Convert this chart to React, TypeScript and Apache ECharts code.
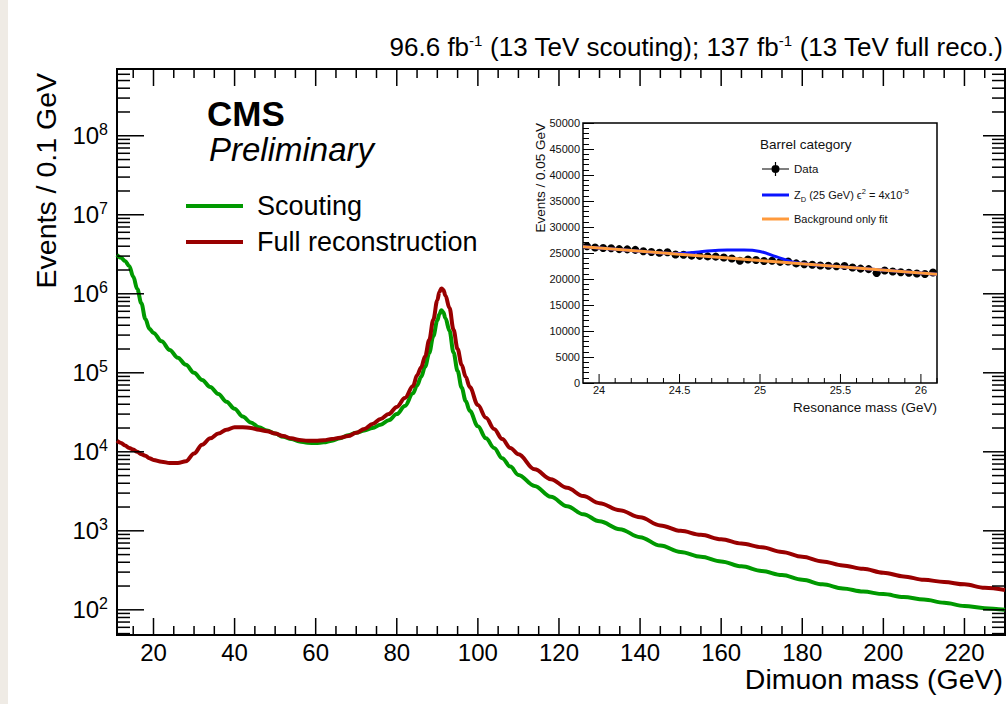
import React, { useEffect, useRef } from "react";
import * as echarts from "echarts";

const FONT = "'Liberation Sans', Arial, Helvetica, sans-serif";
const GREEN = "#009900";
const RED = "#990000";
const BLUE = "#0a14ff";
const ORANGE = "#ff9a3c";

// ---------- main plot data (dimuon mass, GeV / events per 0.1 GeV) ----------
const massGeV = [
  11, 12, 13, 14, 15, 16, 17, 18, 19, 20,
  22, 24, 26, 28, 30, 32, 34, 36, 38, 40, 42, 44, 46, 48, 50, 52, 54, 56, 58, 60,
  62, 64, 66, 68, 70, 72, 74, 76, 78, 80, 82, 84,
  85, 86, 87, 88, 89, 90,
  90.5, 91, 91.5, 92,
  93, 94, 95, 96, 97, 98,
  100, 102, 104, 106, 108, 110,
  114, 118, 122, 126, 130,
  135, 140, 145, 150, 155, 160, 165, 170, 175, 180, 185, 190, 195, 200, 205, 210, 215, 220, 225, 230,
];
const scouting = [
  3.1e6, 2.85e6, 2.6e6, 2.25e6, 1.65e6, 1.15e6, 7.6e5, 4.8e5, 3.6e5, 3.2e5,
  2.5e5, 1.95e5, 1.55e5, 1.26e5, 1.0e5, 8.1e4, 6.6e4, 5.4e4, 4.3e4, 3.5e4, 2.8e4, 2.35e4, 2.05e4, 1.86e4, 1.7e4, 1.55e4, 1.45e4, 1.35e4, 1.3e4, 1.29e4,
  1.32e4, 1.38e4, 1.48e4, 1.62e4, 1.74e4, 1.86e4, 2.0e4, 2.2e4, 2.5e4, 3.0e4, 3.8e4, 5.5e4,
  6.9e4, 8.9e4, 1.2e5, 1.78e5, 2.9e5, 4.6e5,
  5.5e5, 6.2e5, 5.8e5, 4.9e5,
  3.4e5, 1.8e5, 1.05e5, 6.5e4, 4.4e4, 3.3e4,
  2.1e4, 1.48e4, 1.12e4, 8.3e3, 6.5e3, 5.1e3,
  3.7e3, 2.7e3, 2.05e3, 1.62e3, 1.32e3,
  1050, 830, 650, 540, 470, 410, 355, 310, 275, 240, 210, 186, 170, 158, 145, 135, 123, 112, 105, 100,
];
const fullReco = [
  1.38e4, 1.29e4, 1.2e4, 1.12e4, 1.07e4, 1.0e4, 9.3e3, 8.9e3, 8.3e3, 7.9e3,
  7.5e3, 7.2e3, 7.2e3, 7.6e3, 9.5e3, 1.23e4, 1.48e4, 1.7e4, 1.9e4, 2.05e4, 2.05e4, 2.0e4, 1.9e4, 1.82e4, 1.7e4, 1.58e4, 1.48e4, 1.41e4, 1.38e4, 1.38e4,
  1.4e4, 1.45e4, 1.51e4, 1.58e4, 1.74e4, 1.95e4, 2.25e4, 2.6e4, 3.0e4, 3.7e4, 4.8e4, 6.8e4,
  9.3e4, 1.17e5, 1.62e5, 2.6e5, 4.7e5, 8.3e5,
  1.05e6, 1.17e6, 1.12e6, 9.5e5,
  6.6e5, 3.5e5, 2.0e5, 1.26e5, 8.9e4, 6.6e4,
  3.9e4, 2.7e4, 1.95e4, 1.45e4, 1.12e4, 9.3e3,
  6.0e3, 4.5e3, 3.5e3, 2.75e3, 2.24e3,
  1820, 1480, 1170, 1000, 890, 780, 690, 620, 540, 470, 410, 365, 330, 295, 265, 240, 225, 210, 190, 178,
];

// main axis ticks / labels
const xMajorTicks = [20, 40, 60, 80, 100, 120, 140, 160, 180, 200, 220];
const xMinorTicks = [15, 25, 30, 35, 45, 50, 55, 65, 70, 75, 85, 90, 95, 105, 110, 115, 125, 130, 135, 145, 150, 155, 165, 170, 175, 185, 190, 195, 205, 210, 215, 225];
const yMajorTicks = [1e2, 1e3, 1e4, 1e5, 1e6, 1e7, 1e8];
const yDecades = [10, 1e2, 1e3, 1e4, 1e5, 1e6, 1e7, 1e8];
const yMantissas = [2, 3, 4, 5, 6, 7, 8, 9];

// ---------- inset data (barrel category) ----------
const insetMass = [
  23.925, 23.975, 24.025, 24.075, 24.125, 24.175, 24.225, 24.275, 24.325, 24.375, 24.425,
  24.475, 24.525, 24.575, 24.625, 24.675, 24.725, 24.775, 24.825, 24.875, 24.925, 24.975,
  25.025, 25.075, 25.125, 25.175, 25.225, 25.275, 25.325, 25.375, 25.425, 25.475, 25.525,
  25.575, 25.625, 25.675, 25.725, 25.775, 25.825, 25.875, 25.925, 25.975, 26.025, 26.075,
];
const insetEvents = [
  26300, 26050, 25950, 25900, 25750, 25700, 25600, 25350, 25200, 25050, 25150,
  24700, 24650, 24500, 24450, 24350, 24300, 24150, 23950, 23500, 23750, 23650,
  23450, 23500, 23300, 23350, 23000, 22850, 22750, 22600, 22550, 22450, 22500,
  22200, 22000, 21900, 21150, 21650, 21450, 21300, 21200, 21050, 20950, 21250,
];
const bkgMass = [23.9, 24.2, 24.4, 24.6, 24.8, 25.0, 25.2, 25.4, 25.6, 25.8, 26.1];
const bkgFit = [26210, 25490, 25000, 24520, 24040, 23550, 23070, 22590, 22110, 21630, 20900];
const sigMass = [23.9, 24.2, 24.4, 24.5, 24.6, 24.7, 24.8, 24.9, 25.0, 25.1, 25.2, 25.3, 25.4, 25.6, 25.8, 26.1];
const sigFit = [26210, 25490, 25000, 24900, 25150, 25450, 25560, 25580, 25300, 24300, 23300, 22850, 22600, 22110, 21630, 20900];
const insetXMajor = [24, 24.5, 25, 25.5, 26];
const insetXMinor = [24.1, 24.2, 24.3, 24.4, 24.6, 24.7, 24.8, 24.9, 25.1, 25.2, 25.3, 25.4, 25.6, 25.7, 25.8, 25.9, 26.1];

const pairs = (xs: number[], ys: number[]) => xs.map((x, i) => [x, ys[i]]);

function buildOption() {
  const yMinor: number[] = [];
  yDecades.forEach((d) => yMantissas.forEach((m) => {
    const v = m * d;
    if (v > 48 && v < 7e8) yMinor.push(v);
  }));

  const xTickData = [
    ...xMajorTicks.map((v) => [v, 1000, 17]),
    ...xMinorTicks.map((v) => [v, 1000, 9]),
  ];
  const yTickData = [
    ...yMajorTicks.map((v) => [20, v, 27, 22]),
    ...yMinor.map((v) => [20, v, 13, 13]),
  ];
  const insetTickData = [
    ...insetXMajor.map((v) => [v, 10000, 9]),
    ...insetXMinor.map((v) => [v, 10000, 5]),
  ];

  const tickStyle = { stroke: "#000", lineWidth: 1.5 };

  const sup = (s: string) => `{s|${s}}`;

  return {
    animation: false,
    backgroundColor: "#fff",
    grid: [
      { left: 117, top: 69, width: 888, height: 566, show: true, borderColor: "#000", borderWidth: 2, backgroundColor: "transparent", containLabel: false, outerBoundsMode: "none" },
      { left: 583, top: 123, width: 354, height: 260, show: true, borderColor: "#000", borderWidth: 1.5, backgroundColor: "#fff", containLabel: false, outerBoundsMode: "none" },
    ],
    xAxis: [
      {
        type: "value", gridIndex: 0, min: 11, max: 230, splitNumber: 10,
        axisLine: { show: false }, axisTick: { show: false }, splitLine: { show: false },
        axisLabel: {
          customValues: xMajorTicks,
          formatter: (v: number) => (Math.abs(v % 20) < 1e-6 ? String(v) : ""),
          fontSize: 24, lineHeight: 20, fontFamily: FONT, color: "#000", margin: 7,
        },
      },
      {
        type: "value", gridIndex: 1, min: 23.9, max: 26.1, splitNumber: 5,
        axisLine: { show: false }, axisTick: { show: false }, splitLine: { show: false },
        axisLabel: {
          customValues: insetXMajor,
          formatter: (v: number) => (Math.abs(v * 2 - Math.round(v * 2)) < 1e-6 ? String(v) : ""),
          fontSize: 11, lineHeight: 11, fontFamily: FONT, color: "#111", margin: 1,
        },
      },
    ],
    yAxis: [
      {
        type: "log", logBase: 10, gridIndex: 0, min: 48, max: 7e8,
        axisLine: { show: false }, axisTick: { show: false }, splitLine: { show: false },
        axisLabel: {
          customValues: yMajorTicks,
          formatter: (v: number) => {
            const l = Math.log10(v);
            const e = Math.round(l);
            if (Math.abs(l - e) > 1e-6) return "";
            return `{b|10}{s|${e}}`;
          },
          margin: 9,
          rich: {
            b: { fontSize: 24, lineHeight: 28, fontFamily: FONT, color: "#000" },
            s: { fontSize: 16, lineHeight: 16, verticalAlign: "top", fontFamily: FONT, color: "#000" },
          },
        },
      },
      {
        type: "value", gridIndex: 1, min: 0, max: 50000, interval: 5000,
        axisLine: { show: false }, splitLine: { show: false },
        axisTick: { show: true, inside: true, length: 11, lineStyle: { color: "#000", width: 1 } },
        minorTick: { show: true, splitNumber: 5, length: 6, lineStyle: { color: "#000", width: 1 } },
        axisLabel: { fontSize: 11, fontFamily: FONT, color: "#111", margin: 3, formatter: (v: number) => String(v) },
      },
    ],
    legend: [
      {
        data: ["Scouting", "Full reconstruction"],
        orient: "vertical", left: 186, top: 191, padding: 0,
        itemWidth: 57, itemHeight: 4, itemGap: 6, icon: "rect", selectedMode: false,
        textStyle: { fontSize: 27, lineHeight: 30, fontFamily: FONT, color: "#000", padding: [0, 0, 0, 9] },
      },
      {
        data: [{ name: "Data", icon: "path://M0,6.4H27V7.6H0Z M12.9,0H14.1V14H12.9Z M9.5,7A4,4 0 1,1 17.5,7A4,4 0 1,1 9.5,7Z" }],
        orient: "vertical", left: 762, top: 162, padding: 0,
        itemWidth: 27, itemHeight: 14, selectedMode: false,
        textStyle: { fontSize: 11.5, lineHeight: 14, fontFamily: FONT, color: "#111" },
      },
      {
        data: ["ZD", "Background only fit"],
        orient: "vertical", left: 762, top: 187, padding: 0,
        itemWidth: 27, itemHeight: 3, itemGap: 8, icon: "rect", selectedMode: false,
        formatter: (name: string) =>
          name === "ZD" ? "{t|Z}{sub|D}{t| (25 GeV) ϵ}{sup|2}{t| = 4x10}{sup|-5}" : name,
        textStyle: {
          fontSize: 11, lineHeight: 16, fontFamily: FONT, color: "#111",
          rich: {
            t: { fontSize: 11, lineHeight: 16, fontFamily: FONT, color: "#111" },
            sub: { fontSize: 7.5, lineHeight: 9, verticalAlign: "bottom", fontFamily: FONT, color: "#111" },
            sup: { fontSize: 7.5, lineHeight: 9, verticalAlign: "top", fontFamily: FONT, color: "#111" },
          },
        },
      },
    ],
    series: [
      {
        name: "Scouting", type: "line", xAxisIndex: 0, yAxisIndex: 0,
        data: pairs(massGeV, scouting), showSymbol: false, symbol: "none",
        smooth: 0.35, smoothMonotone: "x",
        lineStyle: { color: GREEN, width: 4 }, itemStyle: { color: GREEN }, z: 3,
      },
      {
        name: "Full reconstruction", type: "line", xAxisIndex: 0, yAxisIndex: 0,
        data: pairs(massGeV, fullReco), showSymbol: false, symbol: "none",
        smooth: 0.35, smoothMonotone: "x",
        lineStyle: { color: RED, width: 4 }, itemStyle: { color: RED }, z: 3,
      },
      {
        type: "custom", xAxisIndex: 0, yAxisIndex: 0, silent: true, z: 6,
        data: xTickData,
        renderItem: (params: any, api: any) => {
          const cs = params.coordSys;
          const px = api.coord([api.value(0), 1000])[0];
          const len = api.value(2);
          const b = cs.y + cs.height;
          return {
            type: "group",
            children: [
              { type: "line", shape: { x1: px, y1: b, x2: px, y2: b - len }, style: tickStyle },
              { type: "line", shape: { x1: px, y1: cs.y, x2: px, y2: cs.y + len }, style: tickStyle },
            ],
          };
        },
      },
      {
        type: "custom", xAxisIndex: 0, yAxisIndex: 0, silent: true, z: 6,
        data: yTickData,
        renderItem: (params: any, api: any) => {
          const cs = params.coordSys;
          const py = api.coord([20, api.value(1)])[1];
          const l1 = api.value(2);
          const l2 = api.value(3);
          const r = cs.x + cs.width;
          return {
            type: "group",
            children: [
              { type: "line", shape: { x1: cs.x, y1: py, x2: cs.x + l1, y2: py }, style: tickStyle },
              { type: "line", shape: { x1: r, y1: py, x2: r - l2, y2: py }, style: tickStyle },
            ],
          };
        },
      },
      {
        type: "custom", xAxisIndex: 1, yAxisIndex: 1, silent: true, z: 6,
        data: insetTickData,
        renderItem: (params: any, api: any) => {
          const cs = params.coordSys;
          const px = api.coord([api.value(0), 10000])[0];
          const len = api.value(2);
          const b = cs.y + cs.height;
          return { type: "line", shape: { x1: px, y1: b, x2: px, y2: b - len }, style: { stroke: "#000", lineWidth: 1 } };
        },
      },
      {
        type: "custom", xAxisIndex: 1, yAxisIndex: 1, silent: true, z: 3, clip: true,
        data: pairs(insetMass, insetEvents),
        renderItem: (params: any, api: any) => {
          const a = api.coord([api.value(0) - 0.025, api.value(1)]);
          const c = api.coord([api.value(0) + 0.025, api.value(1)]);
          return { type: "line", shape: { x1: a[0], y1: a[1], x2: c[0], y2: c[1] }, style: { stroke: "#000", lineWidth: 1.5 } };
        },
      },
      {
        name: "Data", type: "scatter", xAxisIndex: 1, yAxisIndex: 1,
        data: pairs(insetMass, insetEvents), symbol: "circle", symbolSize: 8,
        itemStyle: { color: "#000", opacity: 1 }, z: 3,
      },
      {
        name: "ZD", type: "line", xAxisIndex: 1, yAxisIndex: 1,
        data: pairs(sigMass, sigFit), showSymbol: false, symbol: "none",
        smooth: 0.4, lineStyle: { color: BLUE, width: 3 }, itemStyle: { color: BLUE }, z: 4,
      },
      {
        name: "Background only fit", type: "line", xAxisIndex: 1, yAxisIndex: 1,
        data: pairs(bkgMass, bkgFit), showSymbol: false, symbol: "none",
        smooth: 0.4, lineStyle: { color: ORANGE, width: 3 }, itemStyle: { color: ORANGE }, z: 5,
      },
    ],
    graphic: [
      { type: "rect", shape: { x: 0, y: 0, width: 8, height: 704 }, style: { fill: "#efebe5" }, silent: true },
      {
        type: "text", x: 1003, y: 47, silent: true,
        style: {
          text: `96.6 fb${sup("-1")} (13 TeV scouting); 137 fb${sup("-1")} (13 TeV full reco.)`,
          fontSize: 26, fontFamily: FONT, fill: "#000", lineHeight: 28,
          textAlign: "right", textVerticalAlign: "middle",
          rich: { s: { fontSize: 15, lineHeight: 15, verticalAlign: "top", fontFamily: FONT, fill: "#000", color: "#000" } },
        },
      },
      {
        type: "text", x: 207, y: 113, silent: true,
        style: { text: "CMS", fontSize: 35, fontWeight: "bold", fontFamily: FONT, fill: "#000", textAlign: "left", textVerticalAlign: "middle" },
      },
      {
        type: "text", x: 209, y: 149, silent: true,
        style: { text: "Preliminary", fontSize: 33, fontStyle: "italic", fontFamily: FONT, fill: "#000", textAlign: "left", textVerticalAlign: "middle" },
      },
      {
        type: "text", x: 1003, y: 679, silent: true,
        style: { text: "Dimuon mass (GeV)", fontSize: 28.5, lineHeight: 24, fontFamily: FONT, fill: "#000", textAlign: "right", textVerticalAlign: "middle" },
      },
      {
        type: "text", x: 46, y: 73, rotation: Math.PI / 2, silent: true,
        style: { text: "Events / 0.1 GeV", fontSize: 28.5, fontFamily: FONT, fill: "#000", textAlign: "right", textVerticalAlign: "middle" },
      },
      {
        type: "text", x: 540, y: 123, rotation: Math.PI / 2, silent: true,
        style: { text: "Events / 0.05 GeV", fontSize: 13.5, fontFamily: FONT, fill: "#111", textAlign: "right", textVerticalAlign: "middle" },
      },
      {
        type: "text", x: 937, y: 407, silent: true,
        style: { text: "Resonance mass (GeV)", fontSize: 13.5, fontFamily: FONT, fill: "#111", textAlign: "right", textVerticalAlign: "middle" },
      },
      {
        type: "text", x: 760, y: 144, silent: true,
        style: { text: "Barrel category", fontSize: 13.5, fontFamily: FONT, fill: "#111", textAlign: "left", textVerticalAlign: "middle" },
      },
    ],
  };
}

export default function App() {
  const ref = useRef<HTMLDivElement>(null);
  useEffect(() => {
    if (!ref.current) return;
    const chart = echarts.init(ref.current, undefined, { renderer: "svg" });
    chart.setOption(buildOption() as any);
    return () => chart.dispose();
  }, []);
  return (
    <div
      ref={ref}
      style={{ position: "absolute", left: 0, top: 0, width: 1007, height: 704, background: "#fff" }}
    />
  );
}
